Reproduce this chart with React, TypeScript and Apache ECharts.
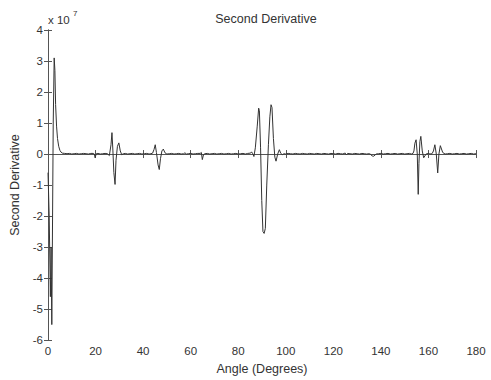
import React, { useEffect, useRef } from "react";
import * as echarts from "echarts";

const xTicks = [0, 20, 40, 60, 80, 100, 120, 140, 160, 180];
const yTicks = [-6, -5, -4, -3, -2, -1, 0, 1, 2, 3, 4];

// angle (degrees)
const angles = [
  0, 0.5, 1.0, 1.3, 1.6, 2.2, 2.6, 2.9, 3.2, 3.6, 4.0, 4.5, 5.0, 5.5, 6.0, 7, 8, 9, 10, 11, 12, 13, 14, 15, 16, 17, 18,
  19, 19.5, 19.8, 20.3, 21, 22, 23, 24, 25, 25.8, 26.5, 26.9, 27.3, 27.7, 28.2, 28.6, 29.2, 29.8, 30.4, 31, 31.7, 32.5,
  33.5, 34.5, 35.5, 36.5, 37.5, 38.5, 39.5, 40.5, 41.5, 42.5, 43.3, 44, 44.6, 45.1, 45.6, 46.3, 46.8, 47.3, 47.9, 48.5,
  49.2, 50, 51, 52, 53, 54, 55, 56, 57, 57.6, 58.2, 59, 60, 61, 62, 63, 64, 64.5, 64.9, 65.4, 66, 67, 68, 69, 70, 71, 72,
  73, 74, 75, 76, 77, 78, 79, 80, 81, 82, 83, 84, 85.2, 85.6, 86.1, 86.6, 87.2, 88.0, 88.6, 88.9, 89.4, 89.9, 90.4, 90.9,
  91.4, 92.0, 92.7, 93.3, 93.8, 94.2, 94.8, 95.4, 95.9, 96.6, 97.3, 97.9, 98.5, 99.3, 100, 101, 102, 103, 104, 105, 106,
  107, 108, 109, 110, 111, 112, 113, 114, 115, 116, 117, 118, 119, 120, 121, 122, 123, 124, 124.5, 125, 125.5, 126, 127,
  128, 129, 130, 131, 132, 133, 134, 135, 135.5, 136.3, 137, 138, 139, 140, 141, 142, 143, 144, 145, 146, 147, 148, 149,
  150, 151, 152, 152.8, 153.5, 153.9, 154.3, 154.8, 155.3, 155.7, 156, 156.4, 156.8, 157.4, 158, 159, 160, 160.5, 161.1,
  161.6, 162.1, 162.7, 163.3, 163.9, 164.4, 165, 166, 167, 168, 169, 170, 171, 172, 173, 174, 175, 176, 177, 178, 179, 180,
];

// second derivative (x 10^7)
const values = [
  -0.6, -2.0, -4.6, -3.0, -5.5, 1.0, 3.1, 2.7, 1.6, 0.9, 0.5, 0.25, 0.12, 0.06, 0.03, 0.02, 0.01, 0.02, 0.0, 0.01, 0.02, 0.0, 0.01, 0.02, 0.01, 0.0, 0.02,
  0.02, 0.0, -0.12, 0.01, 0.02, 0.0, 0.01, 0.02, 0.01, -0.05, 0.3, 0.69, 0.1, -0.6, -0.98, -0.2, 0.25, 0.36, 0.1, -0.02, 0.01, 0.02,
  0.0, 0.01, 0.02, 0.0, 0.01, 0.02, 0.0, 0.01, 0.02, 0.0, 0.01, 0.03, 0.15, 0.3, 0.05, -0.35, -0.5, -0.15, 0.1, 0.16,
  0.04, 0.0, 0.01, 0.02, 0.0, 0.01, 0.02, 0.0, 0.01, 0.04, 0.0, 0.01, 0.02, 0.0, 0.01, 0.02, 0.02, 0.05, -0.18, -0.02, 0.01, 0.02, 0.0, 0.01, 0.02, 0.0, 0.01,
  0.02, 0.0, 0.01, 0.02, 0.0, 0.01, 0.02, 0.0, 0.01, 0.02, 0.0, 0.02, 0.03, 0.07, 0.01, -0.08, 0.2, 0.9, 1.48, 1.4, 0.2, -1.5, -2.5, -2.56,
  -2.4, -1.0, 0.3, 1.2, 1.59, 1.5, 0.5, -0.1, -0.23, 0.0, 0.14, 0.02, -0.02, 0.01, 0.0, 0.02, 0.01, 0.0, 0.02, 0.01, 0.0,
  0.02, 0.01, 0.0, 0.02, 0.01, 0.0, 0.02, 0.01, 0.0, 0.02, 0.01, 0.0, 0.02, 0.01, 0.0, 0.02, 0.01, 0.0, 0.02, 0.03, -0.03, 0.02, 0.01, 0.0,
  0.02, 0.01, 0.0, 0.02, 0.01, 0.0, 0.01, 0.0, -0.06, -0.07, 0.0, 0.01, 0.02, 0.0, 0.01, 0.02, 0.0, 0.01, 0.02, 0.0, 0.01, 0.02, 0.0, 0.01,
  0.02, 0.0, 0.02, 0.1, 0.35, 0.46, 0.0, -1.3, -0.3, 0.4, 0.57, 0.1, -0.12, 0.0, 0.02, 0.01, 0.0, 0.02, 0.1,
  0.3, 0.0, -0.61, 0.0, 0.27, 0.05, 0.0, 0.01, 0.02, 0.0, 0.01, 0.02, 0.0, 0.01, 0.02, 0.0, 0.01, 0.02, 0.0, 0.01, 0.02, 0.0,
];

const FONT = "'Liberation Sans', Arial, sans-serif";
const TEXT = "#333";
const AXIS = "#555";

export default function App() {
  const ref = useRef<HTMLDivElement>(null);
  useEffect(() => {
    if (!ref.current) return;
    const chart = echarts.init(ref.current, undefined, { renderer: "svg" });
    const data = angles.map((a, i) => [a, values[i]]);
    const axisLine = { show: true, lineStyle: { color: AXIS, width: 1 } };
    const tick = { show: true, inside: true, length: 4, lineStyle: { color: AXIS } };
    chart.setOption({
      animation: false,
      backgroundColor: "#fff",
      title: {
        text: "Second Derivative",
        left: 261,
        textAlign: "center",
        top: 7,
        textStyle: { fontFamily: FONT, fontSize: 12.5, fontWeight: "normal", color: TEXT },
      },
      graphic: [
        { type: "text", left: 48, top: 14, style: { text: "x 10", font: `11.5px ${FONT}`, fill: TEXT } },
        { type: "text", left: 73, top: 9, style: { text: "7", font: `8px ${FONT}`, fill: TEXT } },
      ],
      grid: { left: 48, right: 15, top: 30, bottom: 39 },
      xAxis: [
        {
          type: "value",
          min: 0,
          max: 180,
          interval: 20,
          position: "bottom",
          name: "Angle (Degrees)",
          nameLocation: "middle",
          nameGap: 21,
          nameTextStyle: { fontFamily: FONT, fontSize: 12.5, color: TEXT },
          axisLine,
          axisTick: tick,
          axisLabel: { fontFamily: FONT, fontSize: 11.5, color: TEXT, margin: 5, formatter: (v: number) => (xTicks.includes(v) ? String(v) : "") },
          splitLine: { show: false },
        },
        {
          type: "value",
          min: 0,
          max: 180,
          interval: 20,
          position: "top",
          axisLine,
          axisTick: tick,
          axisLabel: { show: false },
          splitLine: { show: false },
        },
      ],
      yAxis: [
        {
          type: "value",
          min: -6,
          max: 4,
          interval: 1,
          position: "left",
          name: "Second Derivative",
          nameLocation: "middle",
          nameGap: 20,
          nameTextStyle: { fontFamily: FONT, fontSize: 12.5, color: TEXT },
          axisLine,
          axisTick: tick,
          axisLabel: { fontFamily: FONT, fontSize: 11.5, color: TEXT, margin: 5, formatter: (v: number) => (yTicks.includes(v) ? String(v) : "") },
          splitLine: { show: false },
        },
        {
          type: "value",
          min: -6,
          max: 4,
          interval: 1,
          position: "right",
          axisLine,
          axisTick: tick,
          axisLabel: { show: false },
          splitLine: { show: false },
        },
      ],
      series: [
        {
          type: "line",
          data,
          showSymbol: false,
          symbol: "none",
          lineStyle: { color: "#333", width: 1 },
          xAxisIndex: 0,
          yAxisIndex: 0,
        },
      ],
    });
    return () => chart.dispose();
  }, []);
  return <div ref={ref} style={{ position: "fixed", left: 0, top: 0, width: 491, height: 380 }} />;
}
